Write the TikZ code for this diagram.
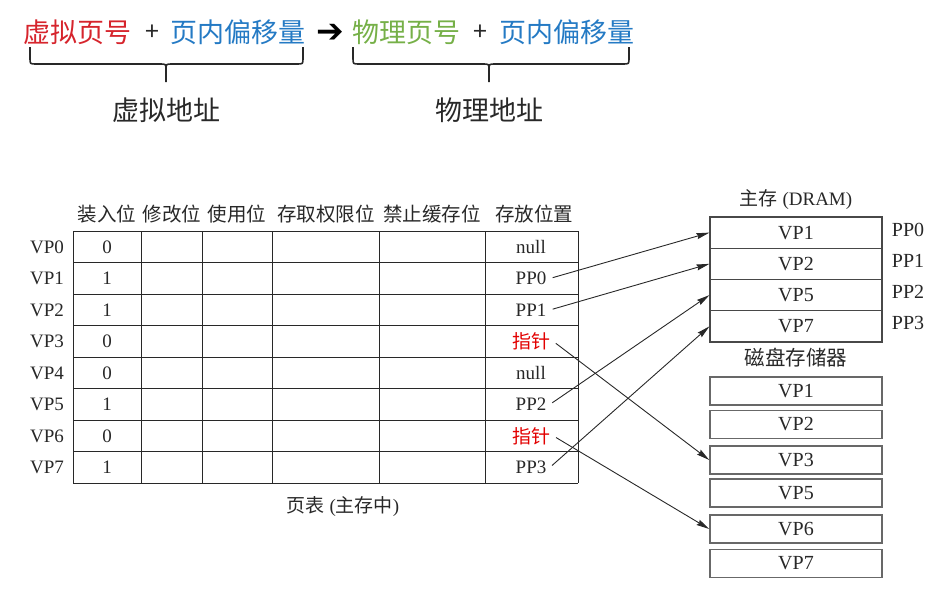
\documentclass[tikz,border=0pt]{standalone}
\usepackage{fontspec}
\setmainfont{Liberation Serif}
\newfontfamily\cjk{Noto Sans CJK SC}
\newfontfamily\symb{DejaVu Sans}
\usetikzlibrary{arrows.meta}
\definecolor{vred}{RGB}{214,36,44}
\definecolor{vblue}{RGB}{36,122,196}
\definecolor{vgreen}{RGB}{118,176,72}
\definecolor{ptr}{RGB}{226,0,0}
\definecolor{ink}{RGB}{40,40,40}
\begin{document}
\begin{tikzpicture}[x=1pt, y=-1pt, line width=0.9pt, draw=ink, text=ink,
	big/.style={font=\cjk\fontsize{27}{30}\selectfont, inner sep=0pt},
	head/.style={font=\cjk\fontsize{19.5}{22}\selectfont, inner sep=0pt},
	cell/.style={font=\fontsize{19}{22}\selectfont, inner sep=3pt},
	mem/.style={draw=ink!85, line width=1.1pt, minimum width=172pt, minimum height=31.25pt,
		font=\fontsize{20}{22}\selectfont, inner sep=0pt},
	disk/.style={draw=ink!70, line width=1.5pt, minimum width=172pt, minimum height=28pt,
		font=\fontsize{20}{22}\selectfont, inner sep=0pt},
	link/.style={-{Stealth[length=13pt,width=6pt,inset=1.5pt]}, line width=0.9pt, shorten <=3pt}]
	\useasboundingbox (0,0) rectangle (940,597);
	% address line
	\node[big, text=vred] (vpn) at (77.5,32) {虚拟页号};
	\node[big, font=\cjk\fontsize{25}{28}\selectfont] (plus1) at (152,33) {+};
	\node[big, text=vblue] (off1) at (238,32) {页内偏移量};
	\node[big, font=\symb\bfseries\fontsize{33}{34}\selectfont, text=black] (to) at (330,33) {➔};
	\node[big, text=vgreen] (ppn) at (406,32) {物理页号};
	\node[big, font=\cjk\fontsize{25}{28}\selectfont] (plus2) at (480,33) {+};
	\node[big, text=vblue] (off2) at (567,32) {页内偏移量};
	\draw[line width=1.6pt] (30,47) -- (30,58) .. controls (30,64) .. (36,64) -- (160,64)
		.. controls (166,64) .. (166,70) -- (166,82);
	\draw[line width=1.6pt] (303,47) -- (303,58) .. controls (303,64) .. (297,64) -- (172,64)
		.. controls (166,64) .. (166,70);
	\draw[line width=1.6pt] (353,47) -- (353,58) .. controls (353,64) .. (359,64) -- (483,64)
		.. controls (489,64) .. (489,70) -- (489,82);
	\draw[line width=1.6pt] (629,47) -- (629,58) .. controls (629,64) .. (623,64) -- (495,64)
		.. controls (489,64) .. (489,70);
	\node[big] (va) at (166,110) {虚拟地址};
	\node[big] (pa) at (489,110) {物理地址};
	% page table
	\foreach \t/\x [count=\i] in {装入位/107, 修改位/172, 使用位/237, 存取权限位/326,
		禁止缓存位/432, 存放位置/534}
		\node[head] (h\i) at (\x,214) {\t};
	\foreach \x in {73,141,202,272,379,485,578}
		\draw (\x,231) -- (\x,483);
	\foreach \i in {0,...,8}
		\draw (73,{231+31.5*\i}) -- (578,{231+31.5*\i});
	\foreach \v [count=\i from 0] in {0,1,1,0,0,1,0,1} {
		\node[cell] (vp\i) at (47,{247+31.5*\i}) {VP\i};
		\node[cell] (bit\i) at (107,{247+31.5*\i}) {\v};
	}
	\foreach \t [count=\i from 0] in {null,PP0,PP1,{\cjk\color{ptr}指针},null,PP2,{\cjk\color{ptr}指针},PP3}
		\node[cell] (loc\i) at (531,{247+31.5*\i}) {\t};
	\node[cell] (ptab) at (343,507) {{\cjk 页表} ({\cjk 主存中})};
	% main memory
	\node[cell, font=\fontsize{19}{22}\selectfont] (dram) at (796,200) {{\cjk 主存} (DRAM)};
	\foreach \t [count=\i from 0] in {VP1,VP2,VP5,VP7} {
		\node[mem] (dram\i) at (796,{232.6+31.25*\i}) {\t};
		\node[cell, font=\fontsize{20}{22}\selectfont] (pp\i) at (908,{230+31*\i}) {PP\i};
	}
	% disk
	\node[head, font=\cjk\fontsize{20.5}{24}\selectfont] (dsk) at (796,358) {磁盘存储器};
	\foreach \n/\y in {1/391, 2/424.5, 3/460, 5/493, 6/529, 7/563.5}
		\node[disk] (disk\n) at (796,\y) {VP\n};
	% mapping
	\draw[link] (loc1.east) -- (dram0.west);
	\draw[link] (loc2.east) -- (dram1.west);
	\draw[link] (loc5.east) -- (dram2.west);
	\draw[link] (loc7.east) -- (dram3.west);
	\draw[link] (loc3.east) -- (disk3.west);
	\draw[link] (loc6.east) -- (disk6.west);
\end{tikzpicture}
\end{document}
